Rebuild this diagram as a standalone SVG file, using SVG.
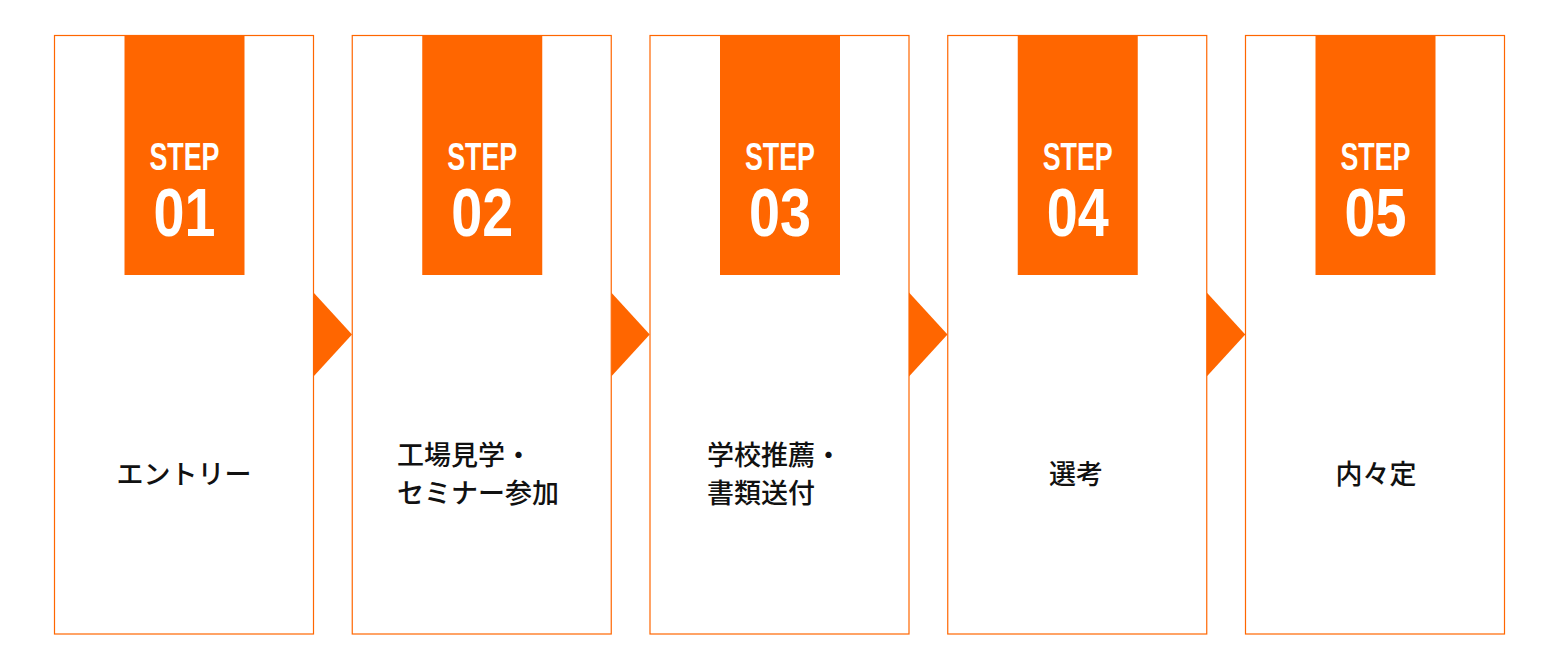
<svg xmlns="http://www.w3.org/2000/svg" width="1560" height="670" viewBox="0 0 1560 670">
  <style>
    .box { fill: #ffffff; stroke: #ff6600; stroke-width: 1.2; }
    .tab { fill: #ff6600; }
    .arrow { fill: #ff6600; }
    .step { font-family: "Liberation Sans", Arial, sans-serif; font-weight: bold; fill: #ffffff; text-anchor: middle; }
    .lbl { font-family: "Noto Sans CJK JP", "Noto Sans", sans-serif; font-size: 27px; fill: #111111; font-weight: 500; }
    .c { text-anchor: middle; }
  </style>
  <rect width="1560" height="670" fill="#ffffff"/>
  <g id="connectors">
    <polygon class="arrow" points="313.5,292.5 352,334.5 313.5,376.5"/>
    <polygon class="arrow" points="611.25,292.5 649.75,334.5 611.25,376.5"/>
    <polygon class="arrow" points="909,292.5 947.5,334.5 909,376.5"/>
    <polygon class="arrow" points="1206.75,292.5 1245.25,334.5 1206.75,376.5"/>
  </g>
  <g id="step1">
    <rect class="box" x="54.5" y="35.5" width="259" height="598.5"/>
    <rect class="tab" x="124.5" y="35" width="120" height="240"/>
    <text class="step" x="184.5" y="169.5" font-size="39" textLength="70" lengthAdjust="spacingAndGlyphs">STEP</text>
    <text class="step" x="184.5" y="236" font-size="68" textLength="62" lengthAdjust="spacingAndGlyphs">01</text>
    <text class="lbl c" x="184" y="484">エントリー</text>
  </g>
  <g id="step2">
    <rect class="box" x="352.25" y="35.5" width="259" height="598.5"/>
    <rect class="tab" x="422.25" y="35" width="120" height="240"/>
    <text class="step" x="482.25" y="169.5" font-size="39" textLength="70" lengthAdjust="spacingAndGlyphs">STEP</text>
    <text class="step" x="482.25" y="236" font-size="68" textLength="62" lengthAdjust="spacingAndGlyphs">02</text>
    <text class="lbl" x="397" y="465">工場見学・</text>
    <text class="lbl" x="397" y="503">セミナー参加</text>
  </g>
  <g id="step3">
    <rect class="box" x="650" y="35.5" width="259" height="598.5"/>
    <rect class="tab" x="720" y="35" width="120" height="240"/>
    <text class="step" x="780" y="169.5" font-size="39" textLength="70" lengthAdjust="spacingAndGlyphs">STEP</text>
    <text class="step" x="780" y="236" font-size="68" textLength="62" lengthAdjust="spacingAndGlyphs">03</text>
    <text class="lbl" x="707" y="465">学校推薦・</text>
    <text class="lbl" x="707" y="503">書類送付</text>
  </g>
  <g id="step4">
    <rect class="box" x="947.75" y="35.5" width="259" height="598.5"/>
    <rect class="tab" x="1017.75" y="35" width="120" height="240"/>
    <text class="step" x="1077.75" y="169.5" font-size="39" textLength="70" lengthAdjust="spacingAndGlyphs">STEP</text>
    <text class="step" x="1077.75" y="236" font-size="68" textLength="62" lengthAdjust="spacingAndGlyphs">04</text>
    <text class="lbl c" x="1076" y="484">選考</text>
  </g>
  <g id="step5">
    <rect class="box" x="1245.5" y="35.5" width="259" height="598.5"/>
    <rect class="tab" x="1315.5" y="35" width="120" height="240"/>
    <text class="step" x="1375.5" y="169.5" font-size="39" textLength="70" lengthAdjust="spacingAndGlyphs">STEP</text>
    <text class="step" x="1375.5" y="236" font-size="68" textLength="62" lengthAdjust="spacingAndGlyphs">05</text>
    <text class="lbl c" x="1376" y="484">内々定</text>
  </g>
</svg>
